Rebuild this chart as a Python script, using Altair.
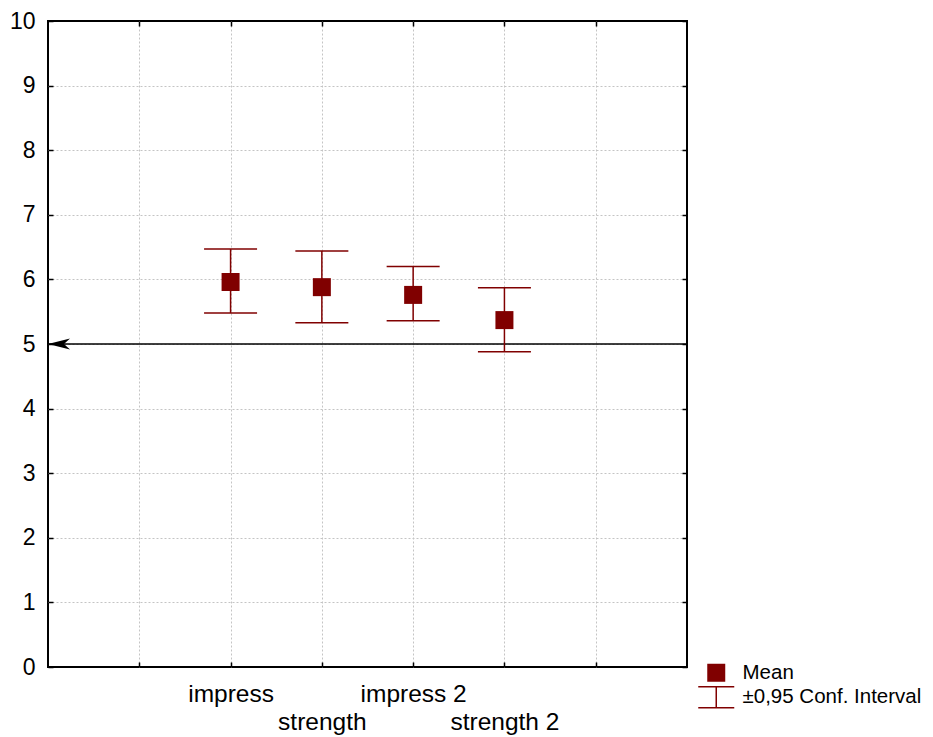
import altair as alt
import pandas as pd

# ---- data ----
categories = ["impress", "strength", "impress 2", "strength 2"]
positions = [2, 3, 4, 5]
means = [5.96, 5.88, 5.76, 5.37]
ci_low = [5.48, 5.33, 5.36, 4.88]
ci_high = [6.47, 6.44, 6.20, 5.87]
x_ticks = [1, 2, 3, 4, 5, 6]
x_tick_labels = ["", "impress", "strength", "impress 2", "strength 2", ""]
y_ticks = list(range(0, 11))
ref_value = [5]
series_names = ["Mean", "±0,95 Conf. Interval"]

DARK_RED = "#800000"
FONT = "Liberation Sans"
IBAR_PATH = "M-2,-1.17H2M0,-1.17V1.17M-2,1.17H2"
ARROW_PATH = "M0,0L2,-0.5L1.45,0L2,0.5Z"

df = pd.DataFrame({
    "category": categories,
    "pos": positions,
    "mean": means,
    "lo": ci_low,
    "hi": ci_high,
    "mean_series": [series_names[0]] * len(categories),
    "ci_series": [series_names[1]] * len(categories),
})
ref_df = pd.DataFrame({"value": ref_value, "x": [0] * len(ref_value)})

# label expression: alternate labels drop to a second line
parts = []
for v, lab in zip(x_ticks, x_tick_labels):
    if lab == "":
        continue
    idx = categories.index(lab)
    txt = f"['', '{lab}']" if idx % 2 == 1 else f"'{lab}'"
    parts.append(f"datum.value == {v} ? {txt}")
label_expr = " : ".join(parts) + " : ''"

x_scale = alt.Scale(domain=[0, 7], nice=False, zero=False)
y_scale = alt.Scale(domain=[0, 10], nice=False, zero=False)

edge_hidden_y = {"condition": {"test": "datum.value == 0 || datum.value == 10", "value": 0}, "value": 1}

x_axis = alt.Axis(
    values=x_ticks, labelExpr=label_expr, title=None, orient="bottom",
    grid=True, gridColor="#c4c4c4", gridDash=[2, 2], gridWidth=1,
    domain=False, offset=-5, tickSize=5, tickColor="black", tickWidth=1.5,
    labelFont=FONT, labelFontSize=24.5, labelColor="black", labelPadding=15,
    labelLineHeight=28, labelOverlap=False, labelFlush=False, labelLimit=0,
)
y_axis = alt.Axis(
    values=y_ticks, title=None, orient="left",
    grid=True, gridColor="#c4c4c4", gridDash=[2, 2], gridWidth=1,
    gridOpacity=edge_hidden_y,
    domain=False, offset=-5, tickSize=5, tickColor="black", tickWidth=1.5,
    labelFont=FONT, labelFontSize=23, labelColor="black", labelPadding=13,
    labelOverlap=False, labelFlush=False,
)
x_axis_top = alt.Axis(
    values=x_ticks, title=None, orient="top", labels=False, grid=False,
    domain=False, offset=-5, tickSize=5, tickColor="black", tickWidth=1.5,
)
y_axis_right = alt.Axis(
    values=y_ticks, title=None, orient="right", labels=False, grid=False,
    domain=False, offset=-5, tickSize=5, tickColor="black", tickWidth=1.5,
)

legend_common = dict(
    orient="none", title=None, symbolSize=324, labelFont=FONT,
    labelFontSize=20.5, labelColor="black", labelOffset=16, padding=0,
    labelLimit=0,
)

ref_rule = alt.Chart(ref_df).mark_rule(color="black", strokeWidth=1.5).encode(
    y=alt.Y("value:Q", scale=y_scale, axis=None),
)

err_rule = alt.Chart(df).mark_rule(strokeWidth=1.5).encode(
    x=alt.X("pos:Q", scale=x_scale, axis=x_axis),
    y=alt.Y("lo:Q", scale=y_scale, axis=y_axis),
    y2="hi:Q",
    color=alt.Color(
        "ci_series:N",
        scale=alt.Scale(domain=[series_names[1]], range=[DARK_RED]),
        legend=alt.Legend(
            legendX=658, legendY=666, symbolType=IBAR_PATH,
            symbolStrokeWidth=1.5, symbolStrokeColor=DARK_RED,
            **legend_common,
        ),
    ),
)

cap_lo = alt.Chart(df).mark_tick(
    color=DARK_RED, thickness=1.5, size=53, orient="horizontal", opacity=1
).encode(
    x=alt.X("pos:Q", scale=x_scale, axis=None),
    y=alt.Y("lo:Q", scale=y_scale, axis=None),
)
cap_hi = alt.Chart(df).mark_tick(
    color=DARK_RED, thickness=1.5, size=53, orient="horizontal", opacity=1
).encode(
    x=alt.X("pos:Q", scale=x_scale, axis=None),
    y=alt.Y("hi:Q", scale=y_scale, axis=None),
)

means_pts = alt.Chart(df).mark_point(
    filled=True, size=324, shape="square", opacity=1
).encode(
    x=alt.X("pos:Q", scale=x_scale, axis=None),
    y=alt.Y("mean:Q", scale=y_scale, axis=None),
    fill=alt.Fill(
        "mean_series:N",
        scale=alt.Scale(domain=[series_names[0]], range=[DARK_RED]),
        legend=alt.Legend(
            legendX=658, legendY=641.5, symbolType="square",
            **legend_common,
        ),
    ),
)

arrow = alt.Chart(ref_df).mark_point(
    shape=ARROW_PATH, filled=True, size=484, color="black", opacity=1
).encode(
    x=alt.X("x:Q", scale=x_scale, axis=x_axis_top),
    y=alt.Y("value:Q", scale=y_scale, axis=y_axis_right),
)

chart = alt.layer(
    ref_rule, err_rule, cap_lo, cap_hi, means_pts, arrow
).resolve_axis(
    x="independent", y="independent"
).properties(
    width=639, height=646,
    background="white",
    autosize=alt.AutoSizeParams(type="none"),
    padding={"left": 40, "top": 13, "right": 238, "bottom": 70},
).configure_view(
    stroke="black", strokeWidth=2
)

chart.save("out.html", embed_options={"renderer": "svg", "actions": False})
